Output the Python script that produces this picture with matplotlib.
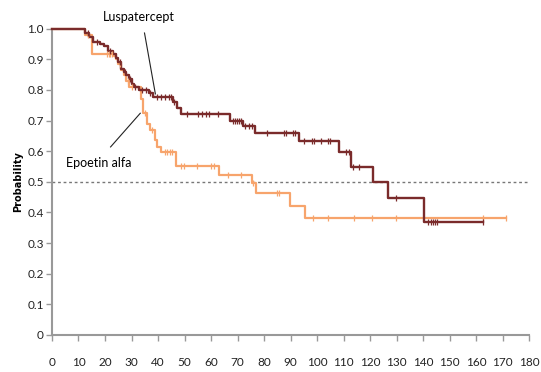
import numpy as np
import matplotlib
matplotlib.use('Agg')
import matplotlib.pyplot as plt

# Kaplan-Meier step data
lusp_times = [0, 12.5, 14, 15.5, 18, 19.5, 21, 23, 24, 25, 26, 27, 28, 29, 30, 31, 33,
              36.5, 38, 45.5, 47, 48.5, 67, 72.2, 76.5, 93, 108.3, 112.9, 121, 126.6, 140.3]
lusp_surv = [1.0, 0.985, 0.972, 0.958, 0.95, 0.943, 0.928, 0.919, 0.906, 0.89, 0.87, 0.86,
             0.85, 0.835, 0.82, 0.81, 0.80, 0.79, 0.777, 0.76, 0.742, 0.72, 0.70, 0.681,
             0.659, 0.632, 0.596, 0.55, 0.498, 0.447, 0.37]
lusp_end = 162.5
lusp_censor = [13.5, 17, 22, 25.5, 27.5, 29.5, 31.5, 34, 35.5, 37, 39.5, 41, 42.5, 44, 45,
               46, 51, 55, 56.6, 58.2, 59.4, 62.5, 68.2, 69, 69.7, 70.6, 71.2, 72.7, 74.3,
               75.6, 81.2, 87.4, 88.2, 90.9, 91.7, 95.1, 98, 98.8, 101.3, 104.2, 104.8,
               110.8, 112, 113.5, 115.8, 129.7, 141.9, 142.8, 143.7, 144.4, 145.3, 162.5]

epo_times = [0, 12.5, 15.2, 23.3, 24, 25, 26, 27, 28, 29.2, 33.5, 34.5, 36, 37, 38.9, 39.5,
             41.3, 46.9, 62.9, 75.6, 77, 89.6, 95.3]
epo_surv = [1.0, 0.98, 0.919, 0.91, 0.90, 0.885, 0.865, 0.85, 0.83, 0.81, 0.77, 0.724, 0.69,
            0.669, 0.636, 0.614, 0.598, 0.551, 0.522, 0.495, 0.462, 0.422, 0.382]
epo_end = 171.4
epo_censor = [13.5, 20.8, 21.4, 22, 22.7, 25.5, 28.5, 30, 35.1, 37.6, 42.6, 43.5, 44.5,
              45.1, 48.6, 49.7, 54.8, 60, 61, 66.5, 71.2, 76, 84.9, 85.8, 98.6, 104.2,
              113.8, 120.8, 129.8, 162.7, 171.4]

x_ticks = list(range(0, 181, 10))
y_ticks = [0, 0.1, 0.2, 0.3, 0.4, 0.5, 0.6, 0.7, 0.8, 0.9, 1.0]
y_labels = ['0', '0.1', '0.2', '0.3', '0.4', '0.5', '0.6', '0.7', '0.8', '0.9', '1.0']

plt.rcParams['font.family'] = ['Lato', 'DejaVu Sans']


def km_at(times, surv, t):
    idx = np.searchsorted(times, t, side='right') - 1
    return np.asarray(surv)[idx]


def draw_km(ax, times, surv, end, censor, color, lw):
    xs = list(times) + [end]
    ys = list(surv) + [surv[-1]]
    ax.step(xs, ys, where='post', color=color, lw=lw, clip_on=False, zorder=3)
    cy = km_at(times, surv, censor)
    ax.plot(censor, cy, linestyle='', marker='|', ms=5, mew=0.9, color=color,
            clip_on=False, zorder=4)


fig = plt.figure(figsize=(5.41, 3.72), dpi=100)
ax = fig.add_axes([0.0961, 0.0995, 0.882, 0.8233])

ax.axhline(0.5, color='#777777', lw=1.0, ls=(0, (2, 2)), zorder=1)

draw_km(ax, epo_times, epo_surv, epo_end, epo_censor, '#f7a46c', 1.6)
draw_km(ax, lusp_times, lusp_surv, lusp_end, lusp_censor, '#7a2b2b', 1.7)

ax.set_xlim(0, 180)
ax.set_ylim(0, 1.0)
ax.set_xticks(x_ticks)
ax.set_yticks(y_ticks)
ax.set_yticklabels(y_labels)

for side in ['top', 'right']:
    ax.spines[side].set_visible(False)
for side in ['left', 'bottom']:
    ax.spines[side].set_color('#999999')
    ax.spines[side].set_linewidth(1.5)

ax.tick_params(axis='x', colors='#999999', length=4, width=1, pad=12, labelsize=8.5,
               labelcolor='#222222')
ax.tick_params(axis='y', colors='#999999', length=4, width=1, pad=2, labelsize=8.5,
               labelcolor='#222222')

ax.set_ylabel('Probability', fontsize=7, fontweight='bold', family='DejaVu Sans',
              labelpad=3)

# curve labels with leader lines
ax.text(32.6, 1.038, 'Luspatercept', ha='center', va='center', fontsize=9,
        clip_on=False)
ax.plot([34.9, 39.0], [0.986, 0.787], color='#222222', lw=0.8, clip_on=False, zorder=5)
ax.text(17.5, 0.562, 'Epoetin alfa', ha='center', va='center', fontsize=9,
        clip_on=False)
ax.plot([22.1, 33.3], [0.614, 0.724], color='#222222', lw=0.8, clip_on=False, zorder=5)

fig.savefig('out.png', dpi=100)
